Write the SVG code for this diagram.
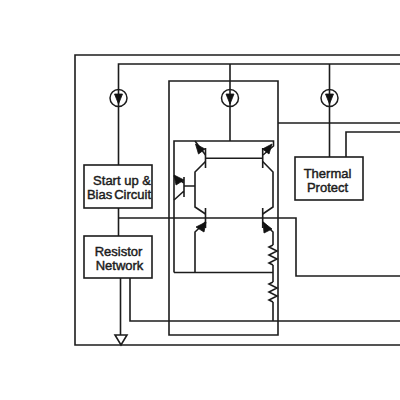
<svg xmlns="http://www.w3.org/2000/svg" width="400" height="400" viewBox="0 0 400 400">
<defs>
<style>
.w{fill:none;stroke:#1c1c1c;stroke-width:1.6}
.b{fill:#fff;stroke:#1c1c1c;stroke-width:1.6}
.a{fill:#111;stroke:#111;stroke-width:.8}
.c{fill:none;stroke:#1c1c1c;stroke-width:1.5}
.t{font-family:"Liberation Sans",Arial,sans-serif;font-size:13px;fill:#1c1c1c;stroke:#1c1c1c;stroke-width:.45;text-anchor:middle}
</style>
<g id="src"><circle class="c" cx="0" cy="0" r="8.5"/><path class="a" d="M-4 -4H4L0 6Z"/></g>
<g id="zig"><path class="w" d="M0 0L-4 2L4 6L-4 10L4 14L-4 18L0 20"/></g>
</defs>
<rect width="400" height="400" fill="#fff"/>
<g id="connectors">
<path class="w" d="M400 55H75V345H400"/>
<path class="w" d="M400 64H118.500V165"/>
<path class="w" d="M230 64V141"/>
<path class="w" d="M329.500 64V157"/>
<path class="w" d="M169 81H278V335H169Z"/>
<path class="w" d="M278 123H400"/>
<path class="w" d="M346 157V132H400"/>
<path class="w" d="M118.500 208V236"/>
<path class="w" d="M118.500 218H296V276H400"/>
<path class="w" d="M120.500 278V335"/>
<path class="w" d="M130 278V321H400"/>
<path class="w" d="M174 272.500V141H273.500V146L263 155"/>
<path class="w" d="M174 272.500H273"/>
<path class="w" d="M195 141L205.500 155"/>
<path class="w" d="M205.500 148V168M205.500 158.300H262.700M262.700 148V168"/>
<path class="w" d="M205.500 161.500L195 172V207L205.500 214"/>
<path class="w" d="M262.700 161.500L273 172V207L262.700 214"/>
<path class="w" d="M205.500 208V228M262.700 208V228"/>
<path class="w" d="M205.500 222L195 232V272.500"/>
<path class="w" d="M262.700 222L273 232V245"/>
<path class="w" d="M273 265V282M273 302V321"/>
<path class="w" d="M184 177V197M184 186H195M184 183L174 176M184 191L174 200"/>
<path class="a" d="M195.500 144L205 149L198.500 154Z"/>
<path class="a" d="M272 144L269 154L262.500 149Z"/>
<path class="a" d="M174 175L184 180L176 185Z"/>
<path class="a" d="M206 222L204 232L196 227Z"/>
<path class="a" d="M263 222L272 229L264 233Z"/>
<use href="#zig" x="273" y="245"/>
<use href="#zig" x="273" y="282"/>
<path class="b" d="M115 335H127L121 345Z"/>
</g>
<g id="source1"><use href="#src" x="118.500" y="98"/></g>
<g id="source2"><use href="#src" x="230" y="98"/></g>
<g id="source3"><use href="#src" x="329.500" y="98"/></g>
<g id="startup"><rect class="b" x="84" y="165" width="68" height="43"/><text class="t" x="122" y="185">Start up &amp;</text><text class="t" x="119" y="199"><tspan>Bias</tspan><tspan dx="2">Circuit</tspan></text></g>
<g id="resistor"><rect class="b" x="84" y="236" width="68" height="42"/><text class="t" x="118.500" y="256">Resistor</text><text class="t" x="119.500" y="270">Network</text></g>
<g id="thermal"><rect class="b" x="295" y="157" width="68" height="43"/><text class="t" x="327.500" y="177.500">Thermal</text><text class="t" x="327.500" y="191.500">Protect</text></g>
</svg>
